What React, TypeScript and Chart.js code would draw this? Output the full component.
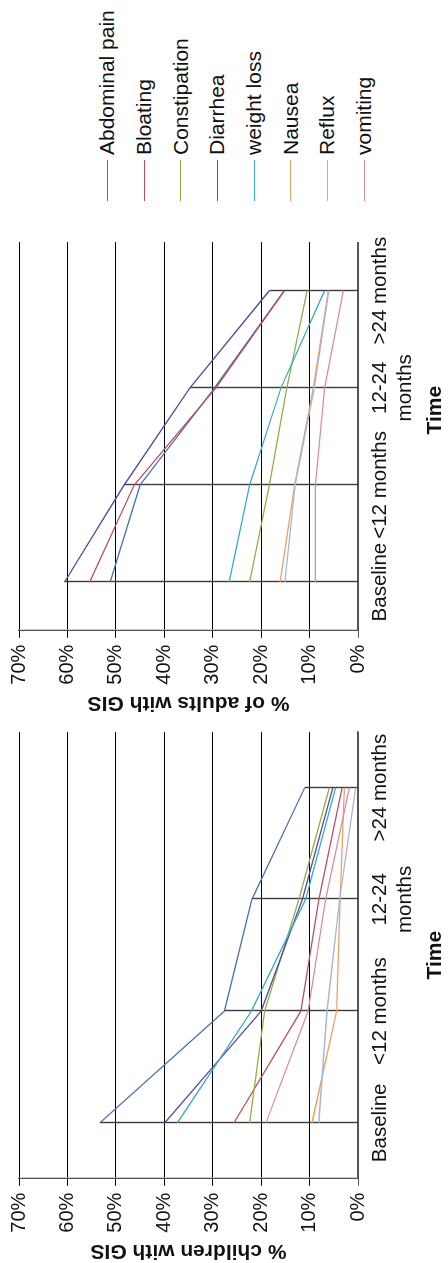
import React, { useEffect, useRef } from "react";
import { Chart, registerables } from "chart.js";
Chart.register(...registerables);

const FONT = "'Liberation Sans', Arial, Helvetica, sans-serif";

const categories: (string | string[])[] = ["Baseline", "<12 months", ["12-24", "months"], ">24 months"];
const seriesNames = ["Abdominal pain", "Bloating", "Constipation", "Diarrhea", "weight loss", "Nausea", "Reflux", "vomiting"];
const seriesColors = ["#4a6eb0", "#b9505f", "#8fae45", "#574a9b", "#3aa9c6", "#eaa062", "#a9b5d2", "#da8ba4"];
const valueTicks = [0, 10, 20, 30, 40, 50, 60, 70];

// Children (% of children with GIS)
const childAbdominal = [53.3, 27.6, 21.9, 11.0];
const childBloating = [25.6, 11.8, 8.1, 3.3];
const childConstipation = [22.4, 19.3, 12.2, 5.9];
const childDiarrhea = [39.9, 20.0, 11.5, 5.2];
const childWeightLoss = [37.3, 22.0, 10.8, 4.6];
const childNausea = [9.5, 4.4, 3.7, 2.8];
const childReflux = [8.1, 6.4, 3.8, 0.5];
const childVomiting = [19.0, 10.3, 6.7, 1.8];

// Adults (% of adults with GIS)
const adultAbdominal = [51.2, 45.0, 29.6, 15.2];
const adultBloating = [55.4, 46.2, 29.3, 15.2];
const adultConstipation = [22.4, 18.3, 14.7, 10.5];
const adultDiarrhea = [60.6, 48.3, 34.7, 18.3];
const adultWeightLoss = [26.6, 22.4, 15.9, 6.9];
const adultNausea = [16.1, 13.1, 9.2, 6.1];
const adultReflux = [15.1, 13.0, 9.0, 6.0];
const adultVomiting = [8.8, 8.8, 6.9, 3.0];

const childSeries = [childAbdominal, childBloating, childConstipation, childDiarrhea, childWeightLoss, childNausea, childReflux, childVomiting];
const adultSeries = [adultAbdominal, adultBloating, adultConstipation, adultDiarrhea, adultWeightLoss, adultNausea, adultReflux, adultVomiting];

const dropLines = {
  id: "dropLines",
  beforeDatasetsDraw(chart: any) {
    const { ctx, scales } = chart;
    const x = scales.x;
    const y = scales.y;
    const n = chart.data.labels.length;
    ctx.save();
    ctx.strokeStyle = "#3c3c3c";
    ctx.lineWidth = 1.4;
    for (let i = 0; i < n; i++) {
      let m = 0;
      chart.data.datasets.forEach((ds: any) => {
        m = Math.max(m, ds.data[i]);
      });
      const px = Math.round(x.getPixelForValue(i)) + 0.5;
      ctx.beginPath();
      ctx.moveTo(px, y.getPixelForValue(m));
      ctx.lineTo(px, y.getPixelForValue(0));
      ctx.stroke();
    }
    ctx.restore();
  },
};

function makeConfig(series: number[][], yTitle: string, xTitle: string): any {
  return {
    type: "line",
    data: {
      labels: categories,
      datasets: series.map((d, i) => ({
        label: seriesNames[i],
        data: d,
        borderColor: seriesColors[i],
        backgroundColor: seriesColors[i],
        borderWidth: 1.3,
        pointRadius: 0,
        tension: 0,
        fill: false,
        order: series.length - i,
      })),
    },
    options: {
      animation: false,
      responsive: false,
      events: [],
      layout: { padding: { top: 15.7, right: 6.3, left: 0, bottom: 0 } },
      plugins: { legend: { display: false }, tooltip: { enabled: false } },
      scales: {
        x: {
          type: "category",
          offset: true,
          grid: { display: false, drawTicks: false },
          border: { display: true, color: "#555", width: 1.3 },
          ticks: { color: "#111", font: { family: FONT, size: 20.5 }, padding: 10, maxRotation: 0, autoSkip: false },
          title: { display: true, text: xTitle, color: "#111", font: { family: FONT, size: 21, weight: "bold" }, padding: 0 },
          afterFit: (s: any) => {
            s.height = 90;
          },
        },
        y: {
          min: valueTicks[0],
          max: valueTicks[valueTicks.length - 1],
          afterBuildTicks: (s: any) => {
            s.ticks = valueTicks.map((v) => ({ value: v }));
          },
          ticks: { callback: (v: any) => v + "%", color: "#111", font: { family: FONT, size: 20 }, padding: 7 },
          grid: {
            color: (c: any) => (c.tick && c.tick.value === 0 ? "#555" : "#000"),
            lineWidth: 1,
            tickLength: 7,
            drawTicks: true,
          },
          border: { display: true, color: "#555", width: 1.3 },
          title: { display: true, text: yTitle, color: "#111", font: { family: FONT, size: 21, weight: "bold" }, padding: 0 },
          afterFit: (s: any) => {
            s.width = 84.3;
          },
        },
      },
    },
    plugins: [dropLines],
  };
}

function LineChart({ series, yTitle, xTitle, width, height }: any) {
  const ref = useRef<HTMLCanvasElement | null>(null);
  useEffect(() => {
    if (!ref.current) return;
    const chart = new Chart(ref.current, makeConfig(series, yTitle, xTitle));
    return () => chart.destroy();
  }, []);
  return <canvas ref={ref} width={width} height={height} style={{ width, height, display: "block" }} />;
}

export default function App() {
  return (
    <div style={{ position: "absolute", left: 0, top: 0, width: 448, height: 1263, overflow: "hidden", background: "#fff" }}>
      <div
        style={{
          position: "absolute",
          left: 0,
          top: 0,
          width: 1263,
          height: 448,
          transformOrigin: "0 0",
          transform: "translateY(1263px) rotate(-90deg)",
          background: "#fff",
        }}
      >
        <div style={{ position: "absolute", left: 0, top: 0 }}>
          <LineChart series={childSeries} yTitle="% children with GIS" xTitle="Time" width={540} height={448} />
        </div>
        <div style={{ position: "absolute", left: 548, top: 0 }}>
          <LineChart series={adultSeries} yTitle="% of adults with GIS" xTitle={"         Time"} width={489} height={448} />
        </div>
        <div style={{ position: "absolute", left: 1062, top: 89, fontFamily: FONT, fontSize: 21, color: "#111" }}>
          {seriesNames.map((name, i) => (
            <div key={name} style={{ height: 36.7, display: "flex", alignItems: "center", whiteSpace: "nowrap" }}>
              <span style={{ display: "inline-block", width: 41, height: 0, borderTop: `1.5px solid ${seriesColors[i]}`, marginRight: 5 }} />
              <span>{name}</span>
            </div>
          ))}
        </div>
      </div>
    </div>
  );
}
